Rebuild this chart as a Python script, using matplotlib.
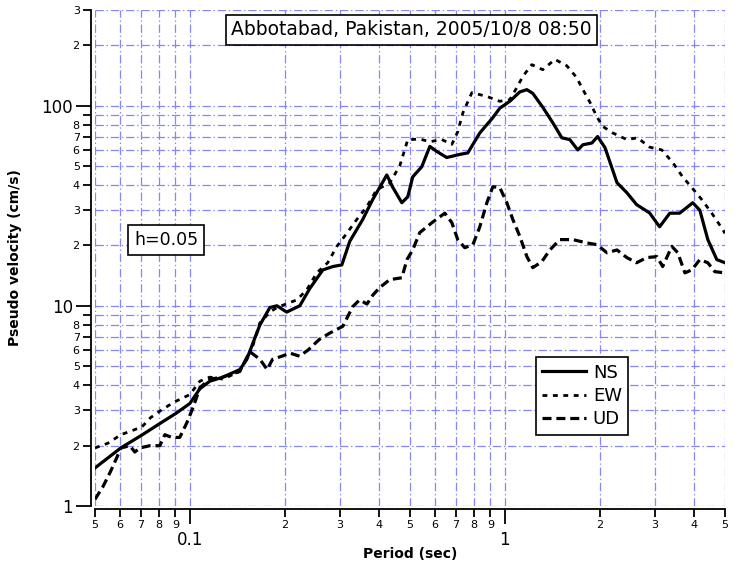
import matplotlib
matplotlib.use("Agg")
import matplotlib.pyplot as plt
from matplotlib.ticker import FixedLocator, FixedFormatter

# pseudo velocity response spectra
ns_period = [0.05, 0.0604, 0.0704, 0.0809, 0.0903, 0.1, 0.1076, 0.1157, 0.1273, 0.1441,
             0.1517, 0.1585, 0.1668, 0.1795, 0.189, 0.203, 0.2234, 0.2404, 0.2644, 0.2844,
             0.3038, 0.322, 0.354, 0.381, 0.422, 0.441, 0.471, 0.492, 0.51, 0.545,
             0.578, 0.608, 0.654, 0.719, 0.763, 0.833, 0.916, 0.964, 1.037, 1.116,
             1.175, 1.227, 1.32, 1.42, 1.517, 1.608, 1.705, 1.77, 1.89, 1.97,
             2.08, 2.27, 2.44, 2.62, 2.88, 3.1, 3.34, 3.59, 3.95, 4.16,
             4.41, 4.71, 5.0]
ns_vel = [1.55, 1.95, 2.26, 2.6, 2.9, 3.25, 3.85, 4.2, 4.4, 4.8,
          5.4, 6.5, 8.0, 9.8, 10.0, 9.3, 10.0, 12.2, 15.1, 15.7,
          16.0, 21, 27, 34, 45, 39, 32.7, 35, 44, 49.5,
          62.5, 59, 55, 57, 58, 73, 87, 97, 105, 117,
          120, 115, 98, 82, 69, 67.6, 60, 63.7, 65, 70,
          61.6, 41.2, 36.7, 32, 29.1, 24.8, 29, 29, 32.7, 30,
          21.4, 17, 16.4]

ew_period = [0.05, 0.055, 0.0604, 0.0704, 0.075, 0.0809, 0.089, 0.1, 0.1076, 0.1157,
             0.1273, 0.1441, 0.1517, 0.1585, 0.1668, 0.1795, 0.189, 0.2186, 0.235, 0.253,
             0.274, 0.293, 0.315, 0.339, 0.365, 0.392, 0.431, 0.464, 0.492, 0.5,
             0.537, 0.578, 0.631, 0.679, 0.709, 0.736, 0.786, 0.877, 0.964, 1.037,
             1.092, 1.141, 1.218, 1.32, 1.442, 1.573, 1.69, 1.77, 1.862, 1.959,
             2.047, 2.2, 2.44, 2.64, 2.88, 3.15, 3.41, 3.67, 3.92, 4.22,
             4.54, 4.92, 5.0]
ew_vel = [1.95, 2.06, 2.27, 2.48, 2.76, 3.0, 3.3, 3.6, 4.2, 4.4,
          4.3, 4.7, 5.5, 6.3, 8.2, 9.3, 9.8, 10.7, 12, 14.6,
          16.4, 19.8, 23, 27, 31.3, 38, 41, 50, 67.6, 67.6,
          68, 66, 67.6, 64, 74, 92, 116, 111, 105, 107,
          123, 140, 160, 151, 170, 158, 138, 120, 104, 88,
          78.6, 73, 67.6, 69, 62, 60, 52, 44, 39, 33.9,
          29, 24, 23]

ud_period = [0.05, 0.053, 0.0557, 0.0586, 0.0604, 0.0645, 0.0669, 0.0694, 0.0746, 0.0803,
             0.0833, 0.0877, 0.0929, 0.0978, 0.1015, 0.1045, 0.1076, 0.1157, 0.127, 0.144,
             0.155, 0.167, 0.176, 0.183, 0.196, 0.208, 0.223, 0.237, 0.258, 0.278,
             0.306, 0.329, 0.346, 0.365, 0.381, 0.4, 0.431, 0.471, 0.489, 0.51,
             0.537, 0.587, 0.645, 0.679, 0.709, 0.746, 0.792, 0.833, 0.877, 0.916,
             0.964, 1.015, 1.06, 1.116, 1.175, 1.227, 1.31, 1.39, 1.495, 1.644,
             1.82, 1.959, 2.11, 2.27, 2.44, 2.62, 2.82, 3.04, 3.17, 3.39,
             3.54, 3.73, 3.92, 4.16, 4.41, 4.64, 5.0]
ud_vel = [1.08, 1.25, 1.46, 1.74, 1.95, 2.0, 1.86, 1.95, 2.0, 2.0,
          2.27, 2.2, 2.2, 2.6, 3.0, 3.4, 3.9, 4.3, 4.4, 4.7,
          5.9, 5.4, 4.8, 5.4, 5.6, 5.8, 5.6, 6.0, 6.8, 7.3,
          7.9, 9.9, 10.7, 10.2, 11.3, 12.3, 13.5, 13.8, 17, 19,
          23.2, 26, 29, 26, 21.4, 19.5, 20.2, 24.8, 32.7, 39.3,
          38.9, 32.7, 27, 22.2, 17.6, 15.5, 16.6, 19, 21.4, 21.4,
          20.6, 20.2, 18.4, 19, 17.4, 16.4, 17.4, 17.6, 15.7, 19.8,
          18.4, 14.6, 15.1, 17, 16.4, 14.8, 14.6]

# tick labels
x_major = [0.1, 1]
x_major_lbl = ["0.1", "1"]
x_minor = [0.05, 0.06, 0.07, 0.08, 0.09, 0.2, 0.3, 0.4, 0.5, 0.6, 0.7, 0.8, 0.9, 2, 3, 4, 5]
x_minor_lbl = ["5", "6", "7", "8", "9", "2", "3", "4", "5", "6", "7", "8", "9", "2", "3", "4", "5"]
y_major = [1, 10, 100]
y_major_lbl = ["1", "10", "100"]
y_minor = [2, 3, 4, 5, 6, 7, 8, 9, 20, 30, 40, 50, 60, 70, 80, 90, 200, 300]
y_minor_lbl = ["2", "3", "4", "5", "6", "7", "8", "", "2", "3", "4", "5", "6", "7", "8", "", "2", "3"]

plt.rcParams['font.family'] = ['DejaVu Sans']
plt.rcParams['lines.scale_dashes'] = False

fig = plt.figure(figsize=(7.35, 5.65), dpi=100)
ax = fig.add_axes([95/735, 59/565, 630/735, 496/565])

ax.plot(ns_period, ns_vel, color='black', lw=2.3, label='NS')
ax.plot(ew_period, ew_vel, color='black', lw=2.0, dashes=(3.5, 4), label='EW')
ax.plot(ud_period, ud_vel, color='black', lw=2.3, dashes=(6.5, 3.5), label='UD')

ax.set_xscale('log')
ax.set_yscale('log')
ax.set_xlim(0.05, 5)
ax.set_ylim(1, 300)

ax.xaxis.set_major_locator(FixedLocator(x_major))
ax.xaxis.set_major_formatter(FixedFormatter(x_major_lbl))
ax.xaxis.set_minor_locator(FixedLocator(x_minor))
ax.xaxis.set_minor_formatter(FixedFormatter(x_minor_lbl))
ax.yaxis.set_major_locator(FixedLocator(y_major))
ax.yaxis.set_major_formatter(FixedFormatter(y_major_lbl))
ax.yaxis.set_minor_locator(FixedLocator(y_minor))
ax.yaxis.set_minor_formatter(FixedFormatter(y_minor_lbl))

ax.tick_params(which='major', length=11, width=1.3, labelsize=12)
ax.tick_params(axis='x', which='major', pad=5)
ax.tick_params(axis='y', which='major', pad=2)
ax.tick_params(which='minor', length=6, width=1.3, labelsize=8, pad=2)
for t in ax.xaxis.get_minorticklabels() + ax.yaxis.get_minorticklabels():
    t.set_fontweight('bold')

ax.grid(which='both', color='#8585ff', linestyle=(0, (6, 2, 1, 2)), linewidth=0.9)
ax.spines['top'].set_visible(False)
ax.spines['right'].set_visible(False)
ax.spines['left'].set_position(('outward', 3))
ax.spines['bottom'].set_position(('outward', 2))
ax.spines['left'].set_linewidth(1.3)
ax.spines['bottom'].set_linewidth(1.3)

ax.set_xlabel('Period (sec)', fontsize=10, fontweight='bold')
ax.xaxis.set_label_coords(0.5, -0.083)
ax.set_ylabel('Pseudo velocity (cm/s)', fontsize=10, fontweight='bold', labelpad=14)

box = dict(boxstyle='square,pad=0.28', facecolor='white', edgecolor='black', linewidth=1.2)
ax.text(0.502, 0.96, 'Abbotabad, Pakistan, 2005/10/8 08:50', transform=ax.transAxes,
        ha='center', va='center', fontsize=13.5, bbox=box)
ax.text(0.113, 0.536, 'h=0.05', transform=ax.transAxes,
        ha='center', va='center', fontsize=12.5,
        bbox=dict(boxstyle='square,pad=0.35', facecolor='white', edgecolor='black', linewidth=1.2))

leg = ax.legend(loc='upper left', bbox_to_anchor=(0.70, 0.30), borderaxespad=0,
                fancybox=False, framealpha=1, edgecolor='black', fontsize=13,
                handlelength=2.4, handletextpad=0.4, labelspacing=0.3, borderpad=0.35)
leg.get_frame().set_linewidth(1.2)

fig.savefig('out.png', dpi=100)
